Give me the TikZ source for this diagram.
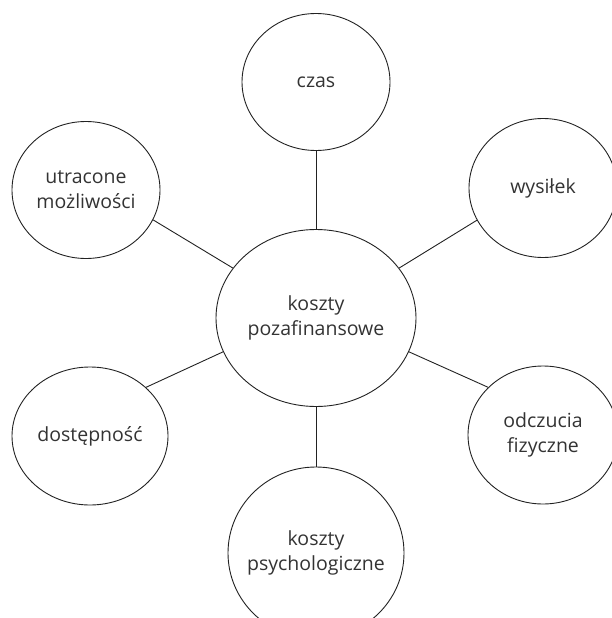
\documentclass[tikz,border=0pt]{standalone}
\usepackage{fontspec}
\setmainfont{Open Sans}
\usetikzlibrary{shapes.geometric}
\definecolor{ink}{HTML}{222222}
\definecolor{txt}{HTML}{333333}
\tikzset{
  bubble/.style={ellipse, draw=ink, line width=0.9pt, inner sep=0pt,
    align=center, text=txt, font=\fontsize{19.5}{25}\selectfont},
  link/.style={draw=ink, line width=0.9pt}
}
\begin{document}
\begin{tikzpicture}[x=1pt,y=-1pt]
  \useasboundingbox (0,0) rectangle (612,618);
  \clip (0,0) rectangle (612,618);
  % central concept
  \node[bubble, minimum width=200pt, minimum height=177pt] (c) at (316,318) {koszty\\pozafinansowe};
  % surrounding cost types
  \node[bubble, minimum width=148pt, minimum height=137pt] (czas) at (316,82) {czas};
  \node[bubble, minimum width=148pt, minimum height=139pt] (wys) at (543,188) {wysiłek};
  \node[bubble, minimum width=150pt, minimum height=138pt] (odcz) at (543,435) {odczucia\\fizyczne};
  \node[bubble, inner xsep=-14pt, minimum width=176pt, minimum height=172pt] (psy) at (316,553) {koszty\\psychologiczne};
  \node[bubble, minimum width=156pt, minimum height=138pt] (dost) at (90,436) {dostępność};
  \node[bubble, minimum width=148pt, minimum height=137pt] (utr) at (86,190) {utracone\\możliwości};
  % connectors between the borders
  \draw[link] (c.90) -- (czas.270);
  \draw[link] (c.31) -- (wys.206);
  \draw[link] (c.-20) -- (odcz.139);
  \draw[link] (c.270) -- (psy.90);
  \draw[link] (c.200) -- (dost.41);
  \draw[link] (c.149) -- (utr.-24);
\end{tikzpicture}
\end{document}
